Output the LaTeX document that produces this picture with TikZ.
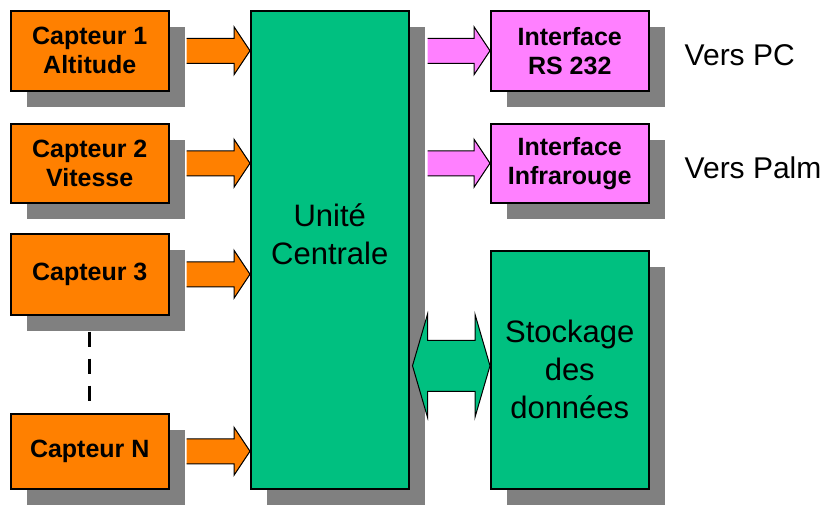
\documentclass[tikz,border=0pt]{standalone}
\usepackage{fontspec}
\setmainfont{Liberation Sans}
\usetikzlibrary{calc,shadows}

\definecolor{orangeC}{RGB}{255,128,0}
\definecolor{vertC}{RGB}{0,192,128}
\definecolor{roseC}{RGB}{255,128,255}
\definecolor{ombreC}{RGB}{128,128,128}

\tikzset{
  bloc/.style={draw=black, line width=1.5pt, anchor=north west, inner sep=0pt,
    minimum width=158pt, align=center,
    drop shadow={shadow xshift=16pt, shadow yshift=-16pt, opacity=1, fill=ombreC}},
  capteur/.style={bloc, fill=orangeC, font=\fontsize{25}{29}\selectfont\bfseries},
  interface/.style={bloc, fill=roseC, font=\fontsize{25}{29}\selectfont\bfseries},
  central/.style={bloc, fill=vertC, font=\fontsize{31}{38}\selectfont},
  sortie/.style={anchor=west, inner sep=0pt, font=\fontsize{30}{36}\selectfont},
  fleche/.style={draw=black, line width=1pt, line join=miter},
}

% fleche pleine : couleur, depart, pointe
\newcommand{\fleche}[3]{%
  \draw[fleche, fill=#1] let \p1=#2, \p2=#3 in
    ({\x1},{\y2+12.5pt}) -- ({\x2-16pt},{\y2+12.5pt}) -- ({\x2-16pt},{\y2+24pt})
    -- ({\x2},{\y2}) -- ({\x2-16pt},{\y2-24pt}) -- ({\x2-16pt},{\y2-12.5pt})
    -- ({\x1},{\y2-12.5pt});
}

\begin{document}
\begin{tikzpicture}[x=1pt, y=-1pt]
  \useasboundingbox (0,0) rectangle (840,504);

  % Capteurs
  \node[capteur, minimum height=80pt] (c1) at (10,10) {Capteur 1\\Altitude};
  \node[capteur, minimum height=79pt] (c2) at (10,123) {Capteur 2\\Vitesse};
  \node[capteur, minimum height=81pt] (c3) at (10,233) {Capteur 3};
  \node[capteur, minimum height=75pt] (cN) at (10,413) {Capteur N};

  % Unite centrale
  \node[central, minimum height=478pt] (uc) at (250,10) {};
  \node[font=\fontsize{31}{38}\selectfont, align=center] (uctexte)
    at ([yshift=16pt]uc.center) {Unité\\Centrale};

  % Interfaces et stockage
  \node[interface, minimum height=80pt] (rs) at (490,10) {Interface\\RS 232};
  \node[interface, minimum height=79pt] (ir) at (490,123) {Interface\\Infrarouge};
  \node[central, minimum height=238pt] (st) at (490,250) {Stockage\\des\\données};

  \node[sortie] (pc) at ([xshift=35pt,yshift=-4pt]rs.east) {Vers PC};
  \node[sortie] (palm) at ([xshift=35pt,yshift=-5pt]ir.east) {Vers Palm};

  % Pointilles entre capteur 3 et capteur N
  \draw[line width=3pt, dash pattern=on 15pt off 12pt]
    ([yshift=-16pt]c3.south) -- ([yshift=11pt]cN.north);

  % Fleches
  \foreach \c in {c1,c2,c3,cN}
    \fleche{orangeC}{([xshift=17pt]\c.east)}{(uc.west |- \c.east)};
  \foreach \i in {rs,ir}
    \fleche{roseC}{([xshift=18pt]uc.east |- \i.west)}{(\i.west)};

  % Double fleche vers le stockage
  \coordinate (pointe) at ([yshift=4pt]st.west);
  \draw[fleche, fill=vertC] let \p1=([xshift=3pt]uc.east |- pointe), \p2=(pointe) in
    (\x1,\y1) -- ({\x1+15pt},{\y1+51.5pt}) -- ({\x1+15pt},{\y1+25.5pt})
    -- ({\x2-15pt},{\y1+25.5pt}) -- ({\x2-15pt},{\y1+51.5pt}) -- (\x2,\y1)
    -- ({\x2-15pt},{\y1-51.5pt}) -- ({\x2-15pt},{\y1-25.5pt})
    -- ({\x1+15pt},{\y1-25.5pt}) -- ({\x1+15pt},{\y1-51.5pt}) -- cycle;
\end{tikzpicture}
\end{document}
